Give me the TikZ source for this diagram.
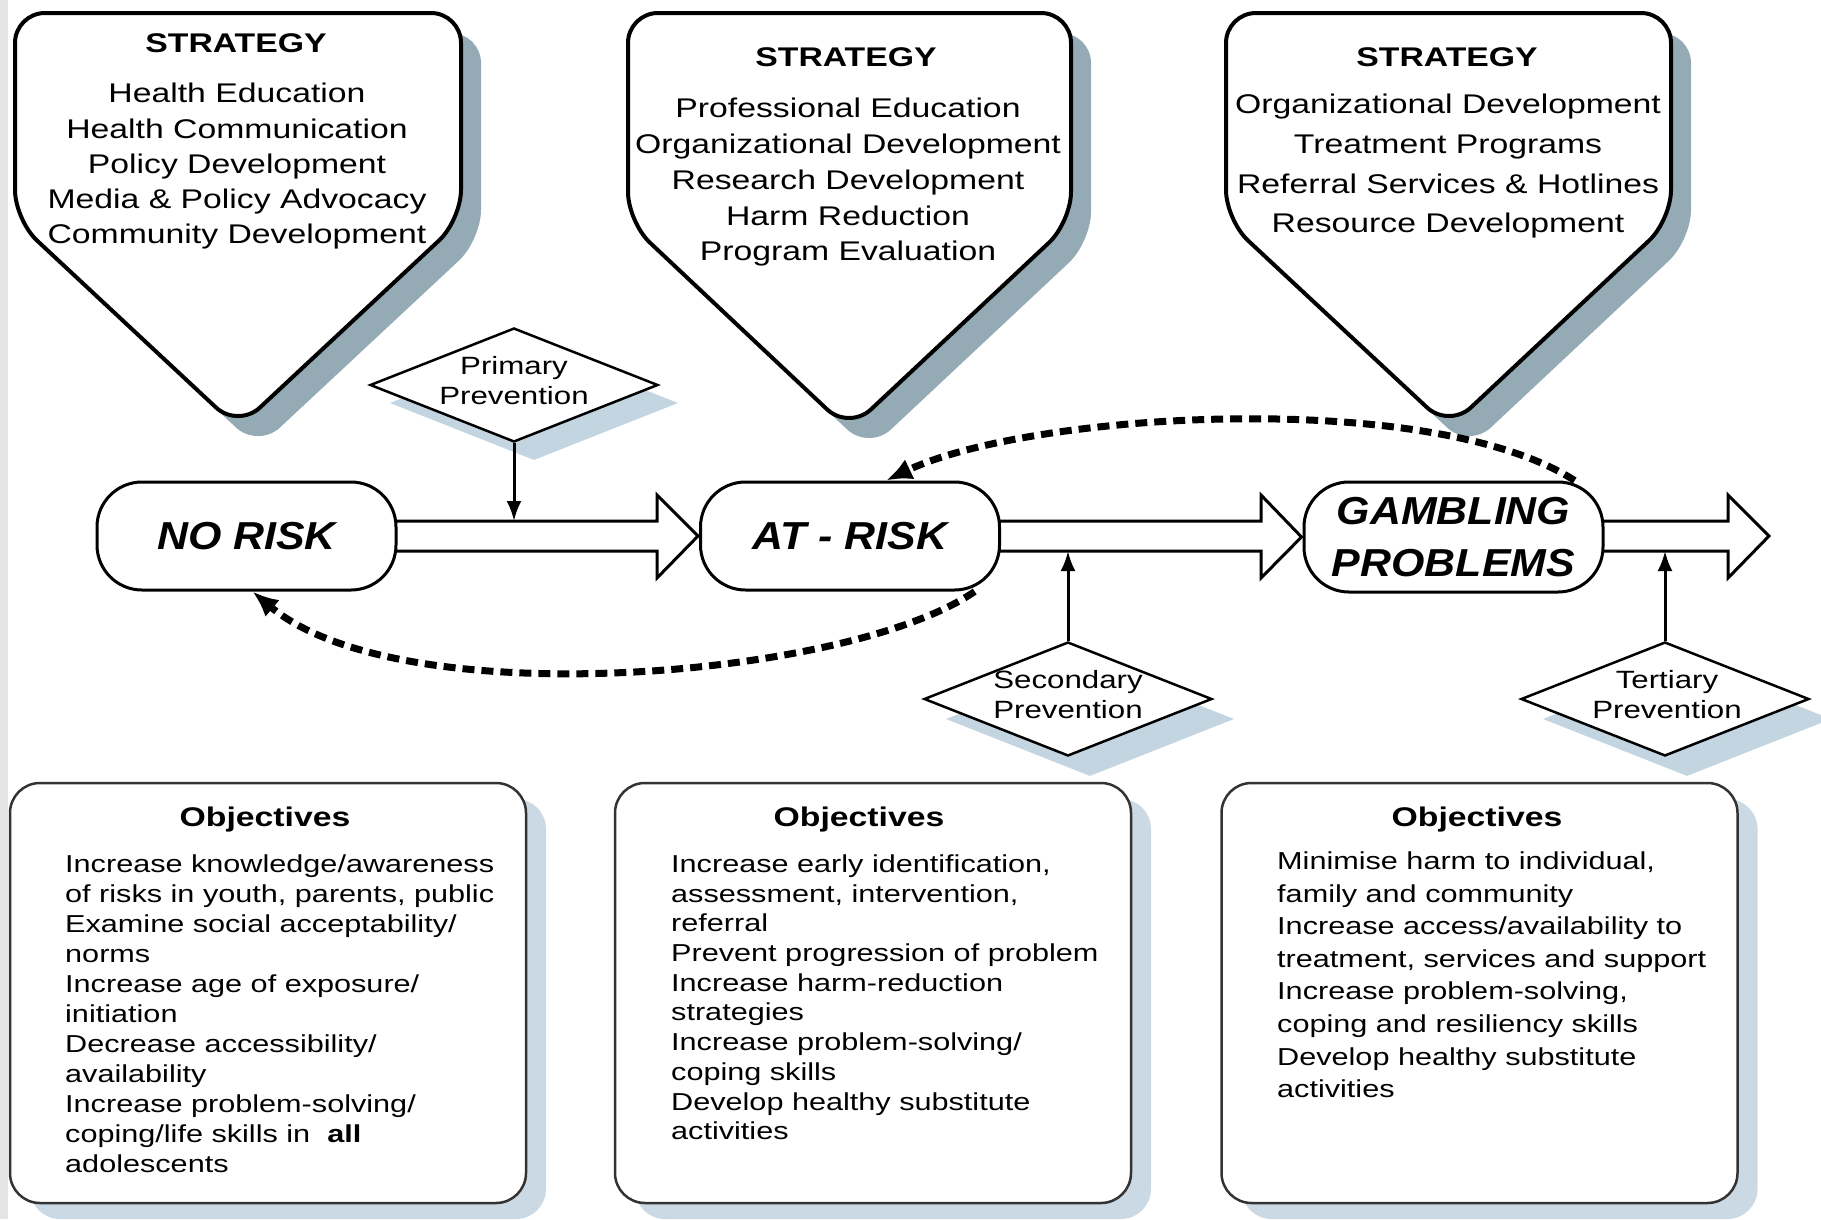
\documentclass[tikz,border=0pt]{standalone}
\usepackage{fontspec}
\setmainfont{Liberation Sans}[FakeStretch=1.25]
\newfontfamily\bigfont{Liberation Sans}[FakeStretch=1.1]
\usetikzlibrary{arrows.meta,shapes.geometric}
\pgfdeclarelayer{bg}
\pgfdeclarelayer{back}
\pgfsetlayers{bg,back,main}
\definecolor{shadowA}{HTML}{94AAB4}
\definecolor{shadowB}{HTML}{C3D5E0}
\definecolor{shadowC}{HTML}{CAD9E3}
\definecolor{stripgray}{HTML}{E4E4E4}
\begin{document}
\begin{tikzpicture}[x=1pt,y=-1pt,
  pentbox/.style={draw=black,line width=4pt,fill=white,rounded corners=30pt},
  pentshadow/.style={fill=shadowA,rounded corners=30pt},
  strattitle/.style={anchor=base,inner sep=0pt,font=\fontsize{27}{35}\selectfont\bfseries},
  stratlist/.style={anchor=north,inner sep=0pt,align=center},
  statebox/.style={draw=black,line width=3pt,fill=white,rounded corners=45pt,inner sep=0pt,align=center,minimum width=299pt,minimum height=108pt,font=\bigfont\bfseries\itshape\fontsize{39}{52}\selectfont},
  hollow/.style={draw=black,line width=3pt,fill=white,line join=miter},
  prevdiamond/.style={diamond,draw=black,line width=2.5pt,fill=white,minimum width=288pt,minimum height=114pt,inner sep=0pt},
  diamondshadow/.style={diamond,fill=shadowB,minimum width=288pt,minimum height=114pt,inner sep=0pt},
  prevtext/.style={inner sep=0pt,align=center,font=\fontsize{25}{30}\selectfont},
  prevarrow/.style={line width=3pt,-{Latex[length=20pt,width=15pt]}},
  backarrow/.style={line width=7pt,dash pattern=on 12pt off 7pt,-{Latex[length=26pt,width=22pt]}},
  objbox/.style={draw=black!80,line width=2.5pt,fill=white,rounded corners=30pt,minimum width=516pt,minimum height=420pt,inner sep=0pt},
  objshadow/.style={fill=shadowC,rounded corners=30pt,minimum width=516pt,minimum height=420pt,inner sep=0pt},
  objtitle/.style={anchor=base,inner sep=0pt,font=\fontsize{27}{35}\selectfont\bfseries},
  objlist/.style={anchor=north west,inner sep=0pt,align=left}
]
\useasboundingbox (0,0) rectangle (1821,1219);
\begin{pgfonlayer}{bg}
\fill[white] (0,0) rectangle (1821,1219);
\fill[stripgray] (0,0) rectangle (8,1219);
\end{pgfonlayer}
\clip (0,0) rectangle (1821,1219);

% strategy pentagons
\foreach \L/\R/\S/\TX/\TY in {15/461/220/238/428,628/1071/222/849/430,1226/1671/220/1449/428}
  \fill[pentshadow,xshift=20pt,yshift=-20pt] ({(\L+\R)/2},13) -- (\R,13) -- (\R,\S) -- (\TX,\TY) -- (\L,\S) -- (\L,13) -- cycle;
\foreach \L/\R/\S/\TX/\TY in {15/461/220/238/428,628/1071/222/849/430,1226/1671/220/1449/428}
  \path[pentbox] ({(\L+\R)/2},13) -- (\R,13) -- (\R,\S) -- (\TX,\TY) -- (\L,\S) -- (\L,13) -- cycle;

\node[strattitle] (st1) at (236,52.5) {STRATEGY};
\node[stratlist,font=\fontsize{27}{35.3}\selectfont] (sl1) at (237,83)
  {Health Education\\Health Communication\\Policy Development\\Media \& Policy Advocacy\\Community Development};
\node[strattitle] (st2) at (846,66.5) {STRATEGY};
\node[stratlist,font=\fontsize{27}{35.75}\selectfont] (sl2) at (848,98)
  {Professional Education\\Organizational Development\\Research Development\\Harm Reduction\\Program Evaluation};
\node[strattitle] (st3) at (1447,66.5) {STRATEGY};
\node[stratlist,font=\fontsize{27}{39.7}\selectfont] (sl3) at (1448,94)
  {Organizational Development\\Treatment Programs\\Referral Services \& Hotlines\\Resource Development};

% state boxes
\node[statebox] (norisk) at (246.5,536) {NO RISK};
\node[statebox] (atrisk) at (850,536) {AT - RISK};
\node[statebox,minimum height=110pt] (gambling) at (1453.5,537) {GAMBLING\\PROBLEMS};
\coordinate (outend) at (1769,536);

% hollow progression arrows
\begin{pgfonlayer}{back}
\path[hollow] ([yshift=15pt]norisk.center) -- (657,521) -- (657,495) -- ([xshift=-1pt]atrisk.west)
  -- (657,578) -- (657,551) -- ([yshift=-15pt]norisk.center);
\path[hollow] ([yshift=15pt]atrisk.center) -- (1261,521) -- (1261,495) -- ([xshift=-1pt]gambling.west)
  -- (1261,578) -- (1261,551) -- ([yshift=-15pt]atrisk.center);
\path[hollow] ([yshift=16pt]gambling.center) -- (1728,521) -- (1728,495) -- (outend)
  -- (1728,578) -- (1728,551) -- ([yshift=-14pt]gambling.center);
\end{pgfonlayer}

% prevention diamonds
\node[diamondshadow] (pps) at (534,403) {};
\node[prevdiamond] (pp) at (514,385) {};
\node[prevtext] (ppt) at (514,381) {Primary\\Prevention};
\coordinate (pa) at (514,521);
\draw[prevarrow] (pp.south) -- (pa);

\node[diamondshadow] (sps) at (1090,719) {};
\node[prevdiamond] (sp) at (1068,699) {};
\node[prevtext] (spt) at (1068,695) {Secondary\\Prevention};
\coordinate (sa) at (1068,551);
\draw[prevarrow] (sp.north) -- (sa);

\node[diamondshadow] (tps) at (1687,719) {};
\node[prevdiamond] (tp) at (1665,699) {};
\node[prevtext] (tpt) at (1667,695) {Tertiary\\Prevention};
\coordinate (ta) at (1665,551);
\draw[prevarrow] (tp.north) -- (ta);

% relapse arrows
\draw[backarrow] (atrisk.-24) .. controls (850,678) and (400,716) .. ([xshift=6pt]norisk.south);
\draw[backarrow] (gambling.25) .. controls (1430,388) and (1030,412) .. (atrisk.57);

% objectives boxes
\node[objshadow] (obs1) at (288,1009) {};
\node[objbox] (ob1) at (268,993) {};
\node[objtitle] (ot1) at (265,826) {Objectives};
\node[objlist,font=\fontsize{24.5}{30}\selectfont] (ol1) at (65,854.5)
  {Increase knowledge/awareness\\of risks in youth, parents, public\\Examine social acceptability/\\norms\\Increase age of exposure/\\initiation\\Decrease accessibility/\\availability\\Increase problem-solving/\\coping/life skills in~ \textbf{all}\\adolescents};

\node[objshadow] (obs2) at (893,1009) {};
\node[objbox] (ob2) at (873,993) {};
\node[objtitle] (ot2) at (859,826) {Objectives};
\node[objlist,font=\fontsize{24.5}{29.7}\selectfont] (ol2) at (671,854.5)
  {Increase early identification,\\assessment, intervention,\\referral\\Prevent progression of problem\\Increase harm-reduction\\strategies\\Increase problem-solving/\\coping skills\\Develop healthy substitute\\activities};

\node[objshadow] (obs3) at (1499.5,1009) {};
\node[objbox] (ob3) at (1479.5,993) {};
\node[objtitle] (ot3) at (1477,826) {Objectives};
\node[objlist,font=\fontsize{24.5}{32.6}\selectfont] (ol3) at (1277,851.5)
  {Minimise harm to individual,\\family and community\\Increase access/availability to\\treatment, services and support\\Increase problem-solving,\\coping and resiliency skills\\Develop healthy substitute\\activities};
\end{tikzpicture}
\end{document}
